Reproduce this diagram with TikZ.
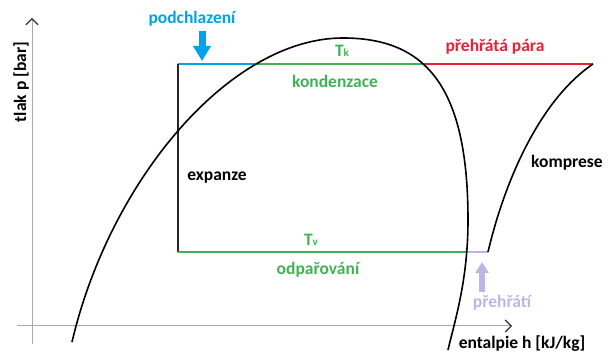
\documentclass[tikz,border=0pt]{standalone}
\usepackage{fontspec}
\setmainfont{Carlito}
\usepackage{tikz}
\usetikzlibrary{arrows.meta,positioning}
\definecolor{subblue}{RGB}{0,162,232}
\definecolor{condgreen}{RGB}{64,178,84}
\definecolor{superred}{RGB}{232,34,52}
\definecolor{shlavender}{RGB}{190,180,232}
\definecolor{axisgray}{RGB}{168,168,168}
\tikzset{
  txtlabel/.style={font=\bfseries\fontsize{17.5}{21}\selectfont, inner sep=0pt},
  axisline/.style={draw=axisgray, line width=1pt,
    -{Straight Barb[black!80, length=6pt, width=12pt, line width=1.2pt]}},
  satcurve/.style={black, line width=1.6pt},
  cycleline/.style={line width=1.5pt},
  blockarrow/.style={line width=7pt, -{Triangle[length=15pt, width=17pt]}}
}

\begin{document}
\begin{tikzpicture}[x=1pt, y=-1pt]
\useasboundingbox (0,0) rectangle (608,352);

\coordinate (ystart) at (32,344);
\coordinate (ytip) at (32,18);
\coordinate (xstart) at (17,326);
\coordinate (xtip) at (512,326);
\draw[axisline] (ystart) -- (ytip);
\draw[axisline] (xstart) -- (xtip);

\coordinate (tl) at (178,64);
\coordinate (tsat) at (258,64);
\coordinate (tdew) at (424,64);
\coordinate (tr) at (593,64);
\coordinate (bl) at (178,252);
\coordinate (bdew) at (466,252);
\coordinate (br) at (488,252);

\draw[cycleline, subblue] (tl) -- (tsat);
\draw[cycleline, condgreen] (tsat) -- (tdew);
\draw[cycleline, superred] (tdew) -- (tr);
\draw[line width=1.2pt, black!85] (tl) -- (bl);
\draw[cycleline, condgreen] (bl) -- (bdew);
\draw[cycleline, shlavender] (bdew) -- (br);

\coordinate (domeleft) at (72,342);
\coordinate (domepeak) at (343,38);
\coordinate (domeside) at (468,220);
\coordinate (domeright) at (448,350);
\draw[satcurve] (domeleft) .. controls (110,180) and (230,38) .. (domepeak)
  .. controls (427,38) and (468,88) .. (domeside)
  .. controls (468,280) and (455,320) .. (domeright);
\draw[satcurve] (br) .. controls (505,180) and (540,100) .. (tr);

\coordinate (subtail) at (202,31);
\coordinate (subtip) at (202,61);
\draw[blockarrow, subblue] (subtail) -- (subtip);
\coordinate (shtail) at (482,292);
\coordinate (shtip) at (482,262);
\draw[blockarrow, shlavender, line width=6pt,
  -{Triangle[length=11pt, width=13pt]}] (shtail) -- (shtip);

\node[txtlabel, subblue] (subtext) at (192,19) {podchlazení};
\node[txtlabel, condgreen] (tktext) at (342,51) {T{\fontsize{11}{11}\selectfont k}};
\node[txtlabel, condgreen] (condtext) at (335,81) {kondenzace};
\node[txtlabel, superred] (supertext) at (495,47) {přehřátá pára};
\node[txtlabel] (exptext) at (217,178) {expanze};
\node[txtlabel] (comptext) at (567,163) {komprese};
\node[txtlabel, condgreen] (tvtext) at (311,240) {T{\fontsize{11}{11}\selectfont v}};
\node[txtlabel, condgreen] (evaptext) at (318,270) {odpařování};
\node[txtlabel, shlavender] (shtext) at (502,303) {přehřátí};
\node[txtlabel] (htext) at (522,344) {entalpie h [kJ/kg]};
\node[txtlabel, rotate=90] (ptext) at (21,82) {tlak p [bar]};
\end{tikzpicture}
\end{document}
